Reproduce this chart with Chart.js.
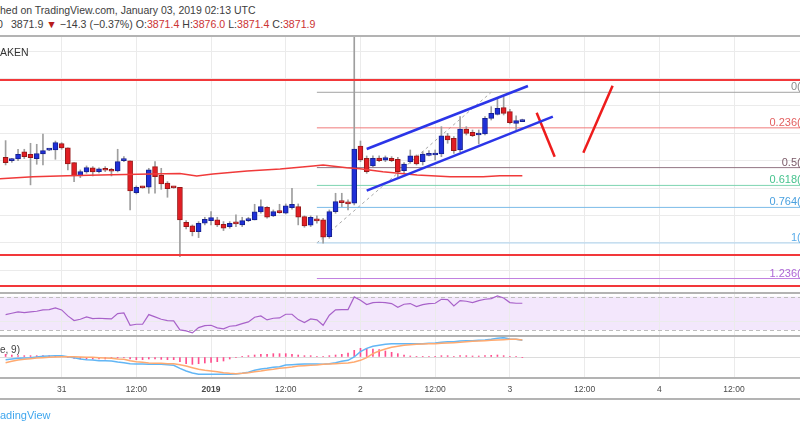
<!DOCTYPE html>
<html>
<head>
<meta charset="utf-8">
<script src="https://cdn.jsdelivr.net/npm/chart.js@4.4.1/dist/chart.umd.min.js"></script>
<style>
  html, body { margin: 0; padding: 0; background: #fff; }
  #page { position: relative; width: 800px; height: 430px; overflow: hidden; font-family: "Liberation Sans", Arial, sans-serif; }
  .txt { position: absolute; left: 0; white-space: nowrap; line-height: 1.2; }
  .cut { position: absolute; right: 100%; top: 0; }
  .sep { position: absolute; left: 0; width: 800px; background: #b3b3b3; }
  .v { color: #cc3333; }
  .dn { color: #b71c1c; }
  canvas { position: absolute; left: 0; }
</style>
</head>
<body>
<div id="page">
  <div class="txt" style="top:4px;font-size:10.5px;color:#3d3d3d"><span class="cut">Publis</span>hed on TradingView.com, January 03, 2019 02:13 UTC</div>
  <div class="txt" style="top:18px;left:-3px;font-size:10.6px;color:#3d3d3d"><span class="cut">KRAKEN:BTCUSD, 6</span>0<span style="padding-left:8px">3871.9 <span class="dn">▼</span> −14.3 (−0.37%) O:<span class="v">3871.4</span> H:<span class="v">3876.0</span> L:<span class="v">3871.4</span> C:<span class="v">3871.9</span></span></div>
  <div class="sep" style="top:35px;height:2px"></div>
  <canvas id="main" width="800" height="255" style="top:37px"></canvas>
  <div class="txt" style="top:46px;font-size:10.5px;color:#333"><span class="cut">Bitcoin / U.S. Dollar, 60, KR</span>AKEN</div>
  <div class="sep" style="top:292px;height:2px"></div>
  <canvas id="rsi" width="800" height="41" style="top:294px"></canvas>
  <div class="sep" style="top:335px;height:2px"></div>
  <canvas id="macd" width="800" height="61" style="top:337px"></canvas>
  <div class="txt" style="top:344px;font-size:10px;color:#444"><span class="cut">MACD (12, 26, clos</span>e, 9)</div>
  <div class="sep" style="top:398px;height:2px"></div>
  <div class="txt" style="top:409px;font-size:11px;color:#3fa6ee"><span class="cut">Tr</span>adingView</div>
</div>
<script>
// hourly candles, first one is Dec 30 15:00 (hour 0 = Dec 31 00:00)
const firstHour = -9;
const candleOpen = [
  3806.4, 3800.3, 3803.3, 3816.1, 3811.8, 3803.9, 3812.5, 3819.3, 3819.7, 3831.3,
  3823.4, 3796.6, 3772.3, 3779.6, 3786.9, 3780.2, 3784.5, 3783.9, 3781.4, 3800.3,
  3799.7, 3741.9, 3752.9, 3751.6, 3789.3, 3773.5, 3759.5, 3752.9, 3751.6, 3687.8,
  3681.1, 3670.8, 3686.0, 3690.8, 3692.1, 3684.2, 3679.9, 3687.2, 3682.9, 3690.8,
  3692.1, 3706.7, 3715.2, 3699.4, 3707.9, 3704.2, 3714.6, 3716.4, 3698.1, 3682.3,
  3693.3, 3692.1, 3661.6, 3707.3, 3725.5, 3722.4, 3722.4, 3827.0, 3804.5, 3790.5,
  3805.1, 3800.9, 3804.5, 3802.7, 3782.0, 3798.4, 3808.8, 3798.4, 3810.0, 3810.6,
  3812.4, 3845.3, 3841.0, 3819.7, 3858.0, 3852.0, 3847.1, 3848.9, 3877.5, 3884.8,
  3897.0, 3889.7, 3868.4, 3871.4
];
const candleHigh = [
  3836.8, 3804.5, 3821.0, 3821.0, 3831.9, 3830.1, 3848.9, 3822.2, 3836.0, 3833.1,
  3823.4, 3796.6, 3783.3, 3790.6, 3789.3, 3787.0, 3789.3, 3786.3, 3821.0, 3807.6,
  3799.7, 3754.1, 3753.5, 3786.3, 3798.5, 3786.3, 3762.0, 3753.5, 3751.6, 3690.8,
  3682.9, 3689.0, 3696.9, 3707.3, 3696.9, 3689.0, 3689.0, 3701.2, 3696.9, 3696.9,
  3720.6, 3728.5, 3716.4, 3710.3, 3720.6, 3721.2, 3749.8, 3721.2, 3699.4, 3699.4,
  3699.4, 3695.1, 3710.3, 3740.7, 3740.7, 3728.5, 4040.0, 3836.1, 3808.8, 3808.8,
  3808.8, 3808.8, 3807.5, 3806.3, 3796.6, 3819.7, 3810.6, 3816.7, 3818.5, 3819.7,
  3862.3, 3850.1, 3844.1, 3880.5, 3862.3, 3856.2, 3856.2, 3880.5, 3898.8, 3914.0,
  3917.0, 3893.9, 3881.8, 3876.0
];
const candleLow = [
  3792.4, 3797.2, 3800.3, 3804.0, 3756.0, 3793.6, 3792.4, 3818.5, 3802.7, 3821.0,
  3783.3, 3762.0, 3769.3, 3777.2, 3772.3, 3778.0, 3780.2, 3772.3, 3779.6, 3798.5,
  3710.3, 3739.5, 3749.8, 3740.7, 3740.7, 3748.0, 3733.4, 3749.8, 3625.2, 3675.6,
  3662.9, 3659.8, 3683.0, 3683.0, 3679.9, 3672.6, 3676.9, 3679.9, 3679.9, 3689.0,
  3692.0, 3704.2, 3695.1, 3698.1, 3704.2, 3703.0, 3711.5, 3683.0, 3678.7, 3679.9,
  3686.0, 3649.5, 3658.6, 3704.2, 3716.4, 3710.3, 3719.4, 3798.4, 3777.1, 3789.3,
  3798.4, 3798.4, 3798.4, 3771.0, 3778.4, 3795.4, 3792.3, 3792.3, 3808.8, 3801.5,
  3807.5, 3831.9, 3813.6, 3816.7, 3847.1, 3844.0, 3830.7, 3847.1, 3874.4, 3883.6,
  3883.6, 3867.2, 3856.2, 3871.4
];
const candleClose = [
  3796.6, 3803.3, 3811.8, 3807.6, 3805.8, 3813.1, 3818.5, 3820.5, 3833.1, 3823.4,
  3794.2, 3772.3, 3780.2, 3787.5, 3779.6, 3785.1, 3782.7, 3780.8, 3798.5, 3801.5,
  3745.0, 3751.6, 3750.4, 3783.3, 3771.1, 3757.7, 3749.2, 3750.4, 3692.1, 3679.9,
  3670.8, 3686.0, 3693.3, 3696.3, 3682.9, 3676.9, 3686.0, 3684.8, 3690.8, 3694.5,
  3706.7, 3716.4, 3696.9, 3707.3, 3705.5, 3717.6, 3720.6, 3696.9, 3681.1, 3696.9,
  3690.2, 3660.4, 3707.3, 3725.5, 3723.7, 3721.2, 3821.5, 3801.5, 3780.2, 3804.5,
  3800.3, 3805.7, 3800.3, 3780.2, 3794.0, 3808.8, 3794.2, 3812.4, 3812.6, 3812.4,
  3845.3, 3838.0, 3818.5, 3858.0, 3850.1, 3845.9, 3848.9, 3877.5, 3886.6, 3895.7,
  3886.6, 3869.6, 3873.2, 3871.9
];

// red moving average, read at a few points
const maHours = [-10, -4.6, 0.9, 6.2, 14.2, 19, 21.7, 24.3, 29.8, 35.1, 40.4, 42, 45.8, 47.9, 51.6, 57.1, 62.4, 67.7, 70.4, 74];
const maValues = [3766.9, 3771.0, 3772.8, 3774.1, 3775.9, 3776.8, 3772.3, 3775.9, 3781.4, 3785.0, 3790.5, 3792.3, 3787.4, 3785.6, 3780.1, 3774.1, 3771.0, 3771.0, 3772.8, 3772.8];

const rsiValues = [
  48.5, 50.1, 51.7, 50.9, 51.7, 52.5, 54.1, 54.5, 56.5, 54.1,
  46.9, 41.3, 42.9, 45.7, 43.7, 44.1, 43.7, 43.3, 49.7, 50.5,
  35.7, 36.9, 36.9, 48.5, 45.7, 42.9, 41.3, 40.9, 30.1, 28.9,
  26.5, 32.9, 35.3, 35.7, 32.5, 31.3, 34.5, 35.3, 37.7, 39.7,
  45.3, 46.9, 42.1, 44.1, 44.5, 48.9, 48.9, 42.5, 38.9, 43.3,
  42.1, 35.7, 47.7, 54.1, 54.5, 54.5, 69.7, 65.7, 60.5, 62.9,
  63.3, 62.9, 61.7, 57.3, 60.9, 61.7, 58.1, 60.5, 61.7, 62.1,
  66.9, 66.5, 58.9, 65.3, 64.5, 62.9, 65.3, 66.9, 67.7, 70.9,
  68.5, 62.9, 62.1, 62.1
];
const rsiBands = [30, 70];

const macdValues = [
  -4, -3, -2, -1.5, -1, 0, 1, 1.5, 2, 2,
  0.5, -1, -3, -4, -4.5, -5.5, -5.5, -6, -7.5, -8.5,
  -10, -10.5, -10.5, -11, -11, -11, -11.5, -12.5, -17, -21,
  -24, -26, -26, -26, -26, -26, -26, -25.5, -24.5, -23,
  -20, -18, -17, -15.5, -14.5, -12, -11.5, -11, -10.5, -10.5,
  -10.5, -11, -10, -8.5, -6.5, -5, 0, 8, 13, 16,
  17.5, 19, 20, 20, 20, 20, 20, 20, 20.5, 21,
  22, 23, 23, 24, 24.5, 24.5, 25, 25.5, 26.5, 28,
  29, 27, 26.5, 25
];
const signalValues = [
  -8.5, -6.5, -4.5, -3.5, -2.5, -1.5, -1, -0.5, 0, 0.5,
  0.5, 0.5, 0, -0.5, -0.5, -1, -1.5, -2, -3, -3.5,
  -5.5, -7, -8, -9, -9.5, -9.5, -10, -10, -11.5, -13.5,
  -16, -18.5, -20, -21, -22, -23.5, -24.5, -25, -24.5, -23.5,
  -22, -21, -19.5, -18.5, -17, -16, -15, -13.5, -13, -12.5,
  -12, -11, -10.5, -10, -9.5, -9, -7.5, -5, -1, 5,
  9, 12, 14.5, 16, 17.5, 18.5, 19, 19.5, 20, 20,
  20.5, 21, 21.5, 22, 23, 23.5, 24, 24.5, 25, 25.5,
  26, 26.5, 26.5, 25.5
];
const histValues = [
  4, 3, 2, 2, 2, 2, 2, 2, 2, 1,
  -0.5, -2, -3, -3, -3, -3, -3, -2, -1.5, -1,
  -3, -4, -4, -3, -3, -3.5, -4, -4, -7, -10,
  -11, -10, -9, -8, -7, -6, -3, -1, 1, 2,
  3, 4, 4, 5, 5, 5, 4, 3, 2, 2,
  1, 0.5, 2, 3, 4, 6, 10, 13, 13, 12,
  11, 9, 7, 5, 3, 1.5, 1, 1, 0.5, 0.5,
  2, 2, 1, 2, 2, 1.5, 1.5, 2, 2.5, 3,
  2, 1, 0.5, -1
];

// fibonacci retracement drawn from the low to the high
const fibLow = 3650, fibHigh = 3925, fibFromHour = 41, fibToHour = 69;
const fibLevels = [0, 0.236, 0.5, 0.618, 0.764, 1, 1.236];
const fibLineColors = ['#a3a3a3', '#f07a7a', '#927584', '#7dd4b0', '#7cbbe8', '#abd4f0', '#c17fe0'];
const fibTextColors = ['#8c8c8c', '#e35f5f', '#7b5b69', '#46c38e', '#49a0df', '#5aacea', '#ad66d6'];

// red support / resistance lines
const redLevels = [3947.5, 3628, 3571.5];

// hand drawn lines
const channelUpper = [[49.0, 3821.5], [74.9, 3936.5]];
const channelLower = [[49.0, 3745.4], [78.9, 3880.5]];
const arrowDown = [[76.3, 3887.8], [79.2, 3807.5]];
const arrowUp = [[83.8, 3814.8], [88.5, 3937.0]];

const tickHours = [0, 12, 24, 36, 48, 60, 72, 84, 96, 108];
const tickLabels = ['31', '12:00', '2019', '12:00', '2', '12:00', '3', '12:00', '4', '12:00'];
const priceGrid = [3600, 3650, 3700, 3750, 3800, 3850, 3900, 3950, 4000];

const hourMin = -9.9, hourMax = 118.6;
const priceMin = 3560.5, priceMax = 4025.9;

Chart.defaults.font.family = '"Liberation Sans", Arial, sans-serif';

const upColor = '#1f30d8', upBorder = '#17218f';
const downColor = '#e21e24', downBorder = '#981818';
const gridColor = '#ebebeb';

const candleHours = candleOpen.map((_, i) => firstHour + i);
const pts = arr => arr.map(p => ({ x: p[0], y: p[1] }));

function lineSet(data, color, width, extra) {
    return Object.assign({
        type: 'line',
        data: data,
        borderColor: color,
        borderWidth: width,
        pointRadius: 0,
        fill: false,
        tension: 0
    }, extra || {});
}

function xScale(showLabels) {
    return {
        type: 'linear',
        min: hourMin,
        max: hourMax,
        offset: false,
        grid: { color: gridColor, drawTicks: false, offset: false },
        border: showLabels ? { display: true, color: '#b3b3b3', width: 2 } : { display: false },
        ticks: {
            display: showLabels,
            autoSkip: false,
            maxRotation: 0,
            padding: 7,
            color: '#4a4a4a',
            font: c => ({ size: 8.5, weight: c.tick && c.tick.value === 24 ? 'bold' : 'normal' }),
            callback: v => tickLabels[tickHours.indexOf(v)]
        },
        afterBuildTicks: s => { s.ticks = tickHours.map(v => ({ value: v })); },
        afterFit: s => { s.height = showLabels ? 20 : 0; }
    };
}

function yScale(min, max, gridValues, color) {
    return {
        min: min,
        max: max,
        grid: { color: color || gridColor, drawTicks: false },
        border: { display: false },
        ticks: { display: false },
        afterBuildTicks: s => { s.ticks = gridValues.map(v => ({ value: v })); },
        afterFit: s => { s.width = 0; }
    };
}

const baseOptions = {
    responsive: false,
    animation: false,
    events: [],
    layout: { padding: 0, autoPadding: false },
    plugins: { legend: { display: false }, tooltip: { enabled: false } }
};

// fib labels sit on the right, cut by the picture edge
const fibLabelPlugin = {
    id: 'fibLabels',
    afterDatasetsDraw(chart) {
        const { ctx, chartArea, scales } = chart;
        ctx.save();
        ctx.font = '11px "Liberation Sans", Arial, sans-serif';
        ctx.textBaseline = 'alphabetic';
        fibLevels.forEach((lvl, i) => {
            const price = fibHigh - lvl * (fibHigh - fibLow);
            const py = scales.y.getPixelForValue(price);
            const head = String(lvl);
            ctx.fillStyle = fibTextColors[i];
            ctx.fillText(head + '(' + price.toFixed(1) + ')', chartArea.right - ctx.measureText(head).width - 3, py - 2);
        });
        ctx.restore();
    }
};

const mainDatasets = [
    {
        type: 'bar',
        data: candleHours.map((h, i) => ({ x: h, y: [candleLow[i], candleHigh[i]] })),
        backgroundColor: '#9e9e9e',
        barThickness: 1,
        grouped: false,
        order: 5
    },
    {
        type: 'bar',
        data: candleHours.map((h, i) => ({ x: h, y: [candleOpen[i], candleClose[i]] })),
        backgroundColor: candleClose.map((c, i) => c >= candleOpen[i] ? upColor : downColor),
        borderColor: candleClose.map((c, i) => c >= candleOpen[i] ? upBorder : downBorder),
        borderWidth: 1,
        borderSkipped: false,
        barThickness: 5,
        minBarLength: 2,
        grouped: false,
        order: 4
    },
    lineSet(maHours.map((h, i) => ({ x: h, y: maValues[i] })), '#f03a3a', 1.5, { order: 3 })
];

fibLevels.forEach((lvl, i) => {
    const price = fibHigh - lvl * (fibHigh - fibLow);
    mainDatasets.push(lineSet([{ x: fibFromHour, y: price }, { x: 140, y: price }], fibLineColors[i], 1, { order: 6 }));
});
redLevels.forEach(p => {
    mainDatasets.push(lineSet([{ x: -20, y: p }, { x: 140, y: p }], '#f2383a', 2, { order: 2 }));
});
mainDatasets.push(lineSet([{ x: fibFromHour, y: fibLow }, { x: fibToHour, y: fibHigh }], '#a8a8a8', 1, { borderDash: [3, 3], order: 6 }));
mainDatasets.push(lineSet(pts(channelUpper), '#2b35e8', 2.5, { order: 1 }));
mainDatasets.push(lineSet(pts(channelLower), '#2b35e8', 2.5, { order: 1 }));
mainDatasets.push(lineSet(pts(arrowDown), '#ee1c1c', 2.5, { order: 1 }));
mainDatasets.push(lineSet(pts(arrowUp), '#ee1c1c', 2.5, { order: 1 }));

new Chart(document.getElementById('main'), {
    type: 'bar',
    data: { datasets: mainDatasets },
    options: Object.assign({}, baseOptions, {
        scales: { x: xScale(false), y: yScale(priceMin, priceMax, priceGrid) }
    }),
    plugins: [fibLabelPlugin]
});

// RSI pane with its band
const rsiBandPlugin = {
    id: 'rsiBand',
    beforeDraw(chart) {
        const { ctx, chartArea, scales } = chart;
        const top = scales.y.getPixelForValue(rsiBands[1]);
        const bottom = scales.y.getPixelForValue(rsiBands[0]);
        ctx.save();
        ctx.fillStyle = '#f3e7fc';
        ctx.fillRect(chartArea.left, top, chartArea.right - chartArea.left, bottom - top);
        ctx.restore();
    },
    beforeDatasetsDraw(chart) {
        const { ctx, chartArea, scales } = chart;
        ctx.save();
        ctx.strokeStyle = '#bdbdbd';
        ctx.lineWidth = 1;
        ctx.setLineDash([4, 3]);
        rsiBands.forEach(v => {
            const py = Math.round(scales.y.getPixelForValue(v)) + 0.5;
            ctx.beginPath();
            ctx.moveTo(chartArea.left, py);
            ctx.lineTo(chartArea.right, py);
            ctx.stroke();
        });
        ctx.restore();
    }
};

new Chart(document.getElementById('rsi'), {
    type: 'line',
    data: {
        datasets: [lineSet(candleHours.map((h, i) => ({ x: h, y: rsiValues[i] })), '#a862c9', 1.2)]
    },
    options: Object.assign({}, baseOptions, {
        scales: { x: xScale(false), y: yScale(24, 73.2, [40]) }
    }),
    plugins: [rsiBandPlugin]
});

// MACD pane, carries the time axis
new Chart(document.getElementById('macd'), {
    type: 'line',
    data: {
        datasets: [
            {
                type: 'bar',
                data: candleHours.map((h, i) => ({ x: h, y: histValues[i] })),
                backgroundColor: '#ff4f8e',
                barThickness: 1,
                grouped: false,
                order: 3
            },
            lineSet(candleHours.map((h, i) => ({ x: h, y: macdValues[i] })), '#62b6f5', 1.5, { order: 2 }),
            lineSet(candleHours.map((h, i) => ({ x: h, y: signalValues[i] })), '#ffaa70', 1.5, { order: 1 })
        ]
    },
    options: Object.assign({}, baseOptions, {
        scales: { x: xScale(true), y: yScale(-31.5, 30, [0], '#dcdcdc') }
    })
});
</script>
</body>
</html>
